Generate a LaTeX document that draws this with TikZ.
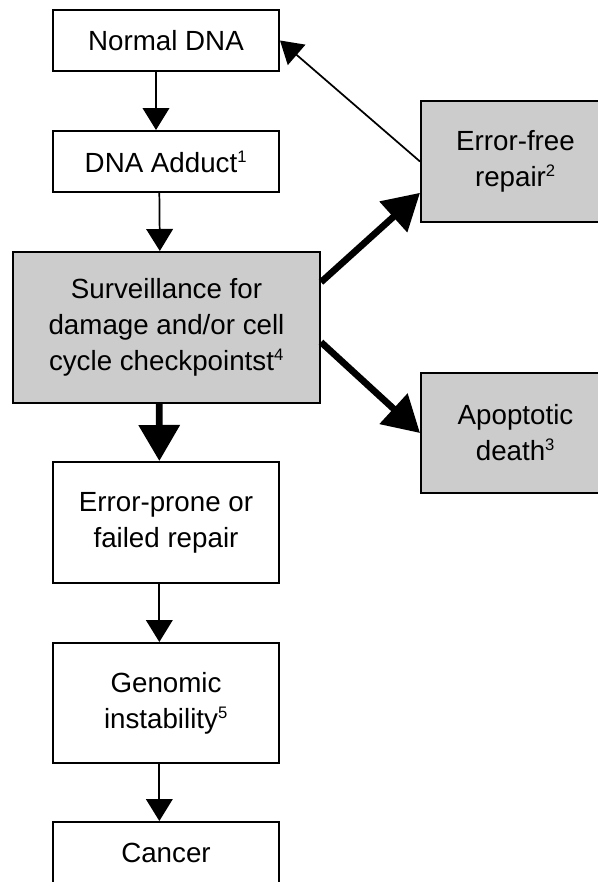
\documentclass[tikz,border=0pt]{standalone}
\usepackage{fontspec}
\setmainfont{Liberation Sans}
\usetikzlibrary{arrows.meta}

\newcommand{\supnum}[1]{\textsuperscript{\fontsize{12.5}{12.5}\selectfont #1}}

\tikzset{
  box/.style={draw, line width=1.5pt, fill=white, align=center, inner sep=0pt,
    font=\fontsize{20.8}{27}\selectfont},
  greybox/.style={box, fill=gray!40},
  arr/.style={line width=1.3pt, -{Triangle[length=16.5pt,width=20pt]}},
  thickarr/.style={line width=5pt, -{Triangle[length=27pt,width=30pt]}}
}

\begin{document}
\begin{tikzpicture}[x=0.75pt,y=0.75pt,yscale=-1,xscale=1]
\useasboundingbox (0,0) rectangle (598,882);
\clip (0,0) rectangle (598,882);

% Left column
\node [box, minimum width=169.5pt, minimum height=45.75pt] (normal) at (166,40.5) {Normal DNA};
\node [box, minimum width=169.5pt, minimum height=45.75pt] (adduct) at (166,161.5) {DNA Adduct\supnum{1}};
\node [greybox, minimum width=230.25pt, minimum height=113.25pt] (surv) at (166.5,327.5) {Surveillance for\\damage and/or cell\\cycle checkpointst\supnum{4}};
\node [box, minimum width=169.5pt, minimum height=90.75pt] (prone) at (166,522.5) {Error-prone or\\failed repair};
\node [box, minimum width=169.5pt, minimum height=90pt] (genomic) at (166,703) {Genomic\\instability\supnum{5}};
\node [box, minimum width=169.5pt, minimum height=46.5pt] (cancer) at (166,853) {Cancer};

% Right column
\node [greybox, minimum width=141.75pt, minimum height=90.75pt] (errfree) at (515.5,161.5) {Error-free\\repair\supnum{2}};
\node [greybox, minimum width=141.75pt, minimum height=90pt] (apop) at (515.5,433) {Apoptotic\\death\supnum{3}};

% Arrows
\draw [arr] ([xshift=-7.5pt]normal.south) -- ([xshift=-7.5pt]adduct.north);
\draw [arr] ([xshift=-5pt]adduct.south) -- ([xshift=-5pt]surv.north);
\draw [thickarr] ([xshift=-5.5pt]surv.south) -- ([xshift=-5pt]prone.north);
\draw [arr] ([xshift=-5pt]prone.south) -- ([xshift=-5pt]genomic.north);
\draw [arr] ([xshift=-5pt]genomic.south) -- ([xshift=-5pt]cancer.north);
\draw [arr] (errfree.west) -- (normal.east);
\draw [thickarr] ([yshift=-34pt]surv.east) -- ([yshift=23.5pt]errfree.west);
\draw [thickarr] ([yshift=11pt]surv.east) -- (apop.west);

\end{tikzpicture}
\end{document}
